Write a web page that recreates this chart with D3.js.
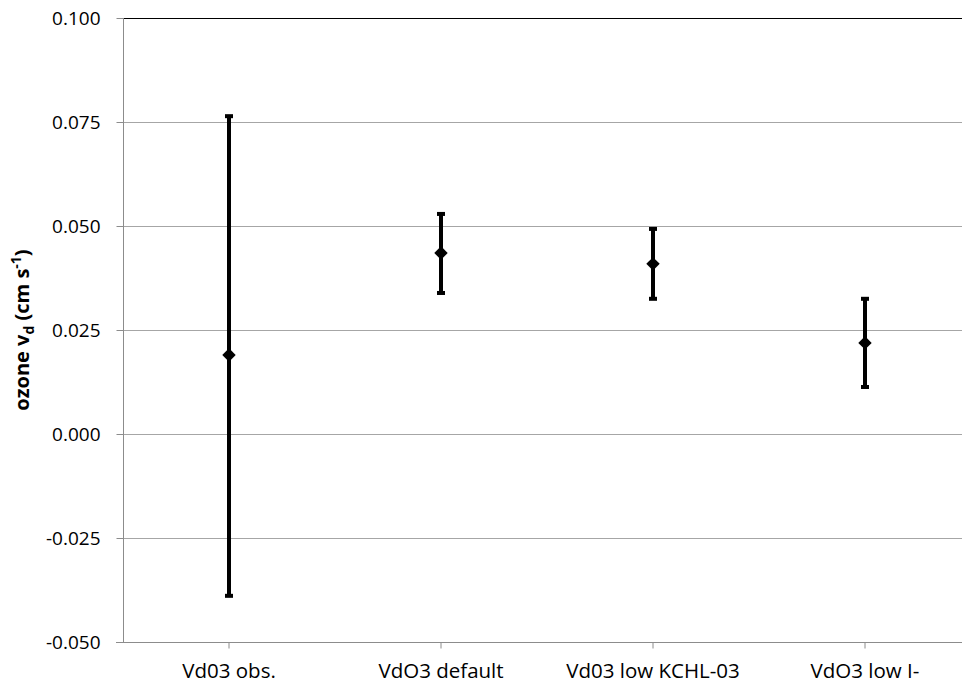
<!DOCTYPE html>
<html><head><meta charset="utf-8">
<script src="https://cdn.jsdelivr.net/npm/d3@7"></script>
<style>body{margin:0;background:#fff}svg{display:block}text{font-family:"Open Sans","Noto Sans",sans-serif}</style>
</head><body><svg id="c" width="962" height="683"></svg>
<script>
const categories = ["Vd03 obs.", "VdO3 default", "Vd03 low KCHL-03", "VdO3 low I-"];
const means = [0.0190, 0.0435, 0.0409, 0.0219];
const upper = [0.0764, 0.0529, 0.0493, 0.0325];
const lower = [-0.0389, 0.0339, 0.0325, 0.0113];
const yTicks = [-0.050, -0.025, 0.000, 0.025, 0.050, 0.075, 0.100];

const svg = d3.select("#c");
const L = 123, T = 18, B = 642, R = 971;
const x = d3.scaleBand().domain(categories).range([L, R]);
const y = d3.scaleLinear().domain([-0.05, 0.1]).range([B, T]);
const cx = d => x(d) + x.bandwidth() / 2;
const fmt = d => d3.format(".3f")(d).replace("\u2212", "-");

// gridlines
svg.append("g").selectAll("line").data(yTicks).join("line")
  .attr("x1", L).attr("x2", 962)
  .attr("y1", d => Math.round(y(d)) + 0.5).attr("y2", d => Math.round(y(d)) + 0.5)
  .attr("stroke", d => d === 0.1 ? "#000" : (d === -0.05 ? "#8c8c8c" : "#a6a6a6"))
  .attr("stroke-width", 1);

// y axis
const ya = svg.append("g").attr("transform", `translate(${L + 0.5},0)`)
  .call(d3.axisLeft(y).tickValues(yTicks).tickFormat(fmt).tickSize(7).tickPadding(16));
ya.select(".domain").attr("stroke", "#8c8c8c").attr("d", `M0,${T}V${B}`);
ya.selectAll(".tick line").attr("stroke", "#8c8c8c");
ya.selectAll(".tick text").attr("font-size", 19).attr("fill", "#000").attr("dy", "0.35em").attr("y", 0);

// x axis
const xa = svg.append("g").attr("transform", `translate(0,${B + 0.5})`)
  .call(d3.axisBottom(x).tickSize(6).tickPadding(15));
xa.select(".domain").attr("stroke", "#8c8c8c").attr("d", `M${L - 7},0H962`);
xa.selectAll(".tick line").attr("stroke", "#8c8c8c");
xa.selectAll(".tick text").attr("font-size", 20.5).attr("fill", "#000");

// error bars
const g = svg.append("g");
categories.forEach((c, i) => {
  const px = Math.round(cx(c));
  g.append("line").attr("x1", px).attr("x2", px).attr("y1", y(upper[i])).attr("y2", y(lower[i]))
    .attr("stroke", "#000").attr("stroke-width", 4);
  [upper[i], lower[i]].forEach(v => {
    g.append("rect").attr("x", px - 4).attr("y", y(v) - 2).attr("width", 8).attr("height", 4).attr("fill", "#000");
  });
  g.append("path").attr("d", d3.symbol(d3.symbolDiamond2, 115)())
    .attr("transform", `translate(${px},${y(means[i])})`).attr("fill", "#000");
});

// y label
const yl = svg.append("text").attr("transform", "translate(29,330) rotate(-90)")
  .attr("text-anchor", "middle").attr("font-size", 20).attr("font-weight", "bold").attr("fill", "#000");
yl.append("tspan").text("ozone v");
yl.append("tspan").text("d").attr("font-size", 14).attr("dy", 5);
yl.append("tspan").text(" (cm s").attr("dy", -5);
yl.append("tspan").text("-1").attr("font-size", 14).attr("dy", -8);
yl.append("tspan").text(")").attr("dy", 8);
</script></body></html>
